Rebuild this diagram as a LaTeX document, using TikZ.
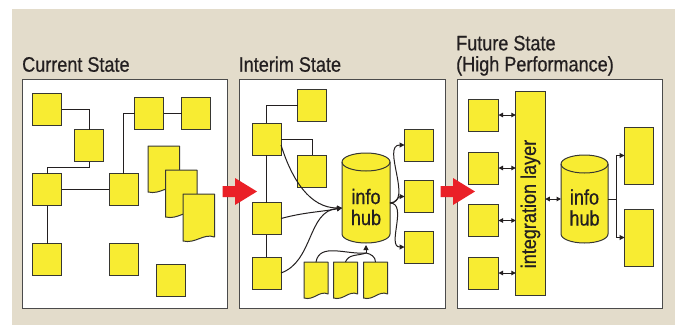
\documentclass[tikz,border=0pt]{standalone}
\usepackage{fontspec}
\setmainfont{Liberation Sans}[FakeStretch=0.86, FakeBold=0.6]
\usepackage{xcolor}
\usepackage{tikz}
\usetikzlibrary{arrows.meta,positioning,shapes.geometric}

\definecolor{bgbeige}{RGB}{227,220,203}
\definecolor{boxyellow}{RGB}{248,236,50}
\definecolor{boxedge}{RGB}{55,55,50}
\definecolor{frameedge}{RGB}{75,75,75}
\definecolor{gored}{RGB}{234,32,39}
\definecolor{inkdark}{RGB}{35,31,32}

% wavy-bottom document sheet: name, x, y (top left), width, height
\newcommand{\docsheet}[5]{%
  \node[minimum width=#4pt, minimum height=#5pt, anchor=north west,
        inner sep=0pt, outer sep=0pt] (#1) at (#2,#3) {};
  \draw[fill=boxyellow, draw=boxedge, line width=1pt, line join=round]
    (#1.north west) -- (#1.north east) -- ([yshift=4pt]#1.south east)
    .. controls ([xshift={-0.35*#4pt}, yshift=8pt]#1.south east)
    and ([xshift={0.4*#4pt}, yshift=-3pt]#1.south west) .. (#1.south west)
    -- cycle;
}
% drum outline round a named node: name, x radius, y radius
\newcommand{\hubdrum}[3]{%
  \draw[fill=boxyellow, draw=boxedge, line width=1pt]
    ([yshift=-#3pt]#1.north west) -- ([yshift=#3pt]#1.south west)
    arc[start angle=180, end angle=360, x radius=#2pt, y radius=#3pt]
    -- ([yshift=-#3pt]#1.north east)
    arc[start angle=0, end angle=180, x radius=#2pt, y radius=#3pt] -- cycle;
  \draw[draw=boxedge, line width=1pt] ([yshift=-#3pt]#1.north west)
    arc[start angle=180, end angle=360, x radius=#2pt, y radius=#3pt];
}

\begin{document}
\begin{tikzpicture}[x=1pt, y=-1pt,
    blk/.style={draw=boxedge, fill=boxyellow, line width=1pt,
                minimum width=29pt, minimum height=32pt, inner sep=0pt, outer sep=0pt},
    frame/.style={draw=frameedge, fill=white, line width=1.4pt,
                  minimum width=205pt, minimum height=229pt, anchor=north west,
                  inner sep=0pt},
    conn/.style={draw=inkdark, line width=1pt},
    tip/.style={conn, -{Triangle[length=5pt, width=5pt]}},
    dbl/.style={conn, {Triangle[length=4.5pt, width=4.5pt]}-{Triangle[length=4.5pt, width=4.5pt]}},
    drum/.style={minimum width=48pt, minimum height=90pt, inner sep=0pt, outer sep=0pt},
    ttl/.style={font=\fontsize{21}{21}\selectfont, text=inkdark,
                inner sep=0pt, align=left},
    hubtxt/.style={font=\fontsize{21}{21}\selectfont, text=inkdark,
                   inner sep=0pt, align=center}]
  \useasboundingbox (0,0) rectangle (675,325);
  \fill[bgbeige] (12,9) rectangle (675,325);

  % Titles
  \node[ttl, anchor=base west] (ttlcur) at (22,71.7) {Current State};
  \node[ttl, anchor=base west] (ttlint) at (238.5,71.7) {Interim State};
  \node[ttl, anchor=north west] (ttlfut) at (456,35.5) {Future State\\(High Performance)};

  % Frames
  \node[frame] (frmcur) at (22,79) {};
  \node[frame, minimum width=206pt] (frmint) at (238.5,79) {};
  \node[frame] (frmfut) at (456.5,79) {};

  % Current state: scattered systems
  \node[blk] (ca) at (47,109.5) {};
  \node[blk] (cb) at (89,145.5) {};
  \node[blk] (cc) at (149,113.5) {};
  \node[blk] (cd) at (196,113.5) {};
  \node[blk] (ce) at (47,189.5) {};
  \node[blk] (cf) at (123.5,189.5) {};
  \node[blk] (cg) at (47,259.5) {};
  \node[blk] (ch) at (123.5,259.5) {};
  \node[blk] (ci) at (170.5,280) {};
  \docsheet{cdoca}{148}{146}{31.5}{46}
  \docsheet{cdocb}{165.5}{170}{31.5}{47}
  \docsheet{cdocc}{183}{194}{31.5}{47}

  \draw[conn] (ca.east) -| (cb.north);
  \draw[conn] (cb.south) -- ++(0,6) -| (ce.north);
  \draw[conn] (ce.east) -- (cf.west);
  \draw[conn] (ce.south) -- (cg.north);
  \draw[conn] (cf.north) |- (cc.west);
  \draw[conn] (cc.east) -- (cd.west);

  % Interim state: info hub
  \node[blk] (ip) at (312,105.5) {};
  \node[blk] (iq) at (266.5,139) {};
  \node[blk] (ir) at (312,171) {};
  \node[blk] (is) at (266.5,218.5) {};
  \node[blk] (it) at (266.5,273) {};
  \node[blk] (iu) at (419,145) {};
  \node[blk] (iv) at (419,196.5) {};
  \node[blk] (iw) at (419,247) {};
  \node[drum] (ihub) at (366,198) {};
  \hubdrum{ihub}{24}{9}
  \node[hubtxt] (ihubtxt) at (366,207) {info\\hub};
  \docsheet{idoca}{304}{262}{24}{36}
  \docsheet{idocb}{333.5}{262}{24}{36}
  \docsheet{idocc}{363.5}{262}{24}{36}

  \draw[conn] (ip.west) -| (iq.north);
  \draw[conn] (iq.south) -- (is.north);
  \draw[conn] (is.south) -- (it.north);
  \draw[conn] (iq.east) -| (ir.north);

  \coordinate (ihubin) at ([yshift=-10pt]ihub.west);
  \coordinate (ihubout) at ([yshift=-5pt]ihub.east);
  \coordinate (ijoin) at ([yshift=-10pt]ihub.south);
  \draw[tip] ([yshift=-6pt]iq.east) .. controls (292,180) and (310,208) .. (ihubin);
  \draw[tip] (is.east) to[out=15, in=190] (ihubin);
  \draw[tip] (it.east) to[out=20, in=185] (ihubin);
  \draw[conn] (idoca.north) to[out=80, in=185] (ijoin);
  \draw[conn] (idocb.north) to[out=70, in=200] (ijoin);
  \draw[conn] (idocc.north) to[out=90, in=-10] (ijoin);
  \draw[tip] (ijoin) -- ([yshift=-2pt]ihub.south);
  \draw[tip] (ihubout) to[out=0, in=180] (iu.west);
  \draw[tip] (ihubout) to[out=0, in=180] (iv.west);
  \draw[tip] (ihubout) to[out=0, in=180] (iw.west);

  % Future state: integration layer
  \node[blk, minimum width=29.5pt, minimum height=204pt] (layer) at (530.5,193) {};
  \node[hubtxt, rotate=90] (layertxt)
    at ([yshift=-11pt]layer.center) {integration layer};
  \foreach \n/\y in {1/115, 2/168, 3/220.5, 4/273} {
    \node[blk, minimum width=30pt] (lft\n) at (483.5,\y) {};
    \draw[dbl] (lft\n.east) -- (lft\n.east -| layer.west);
  }
  \node[drum, minimum width=47pt, minimum height=88pt] (fhub) at (584.5,199) {};
  \hubdrum{fhub}{23.5}{9}
  \node[hubtxt] (fhubtxt) at (584.5,207.5) {info\\hub};
  \node[blk, minimum height=57pt] (rta) at (639,155.5) {};
  \node[blk, minimum height=57pt] (rtb) at (639,237.5) {};

  \draw[dbl] (layer.east |- fhub.west) -- (fhub.west);
  \coordinate (fork) at ([xshift=8.5pt]fhub.east);
  \draw[conn] (fhub.east) -- (fork);
  \draw[tip] (fork) |- (rta.west);
  \draw[tip] (fork) |- (rtb.west);

  % Red transition arrows
  \foreach \x in {222.5, 440.5} {
    \fill[gored] (\x,186) -- ++(12.5,0) -- ++(0,-8) -- ++(22,13.5)
      -- ++(-22,13.5) -- ++(0,-8) -- ++(-12.5,0) -- cycle;
  }
\end{tikzpicture}
\end{document}
